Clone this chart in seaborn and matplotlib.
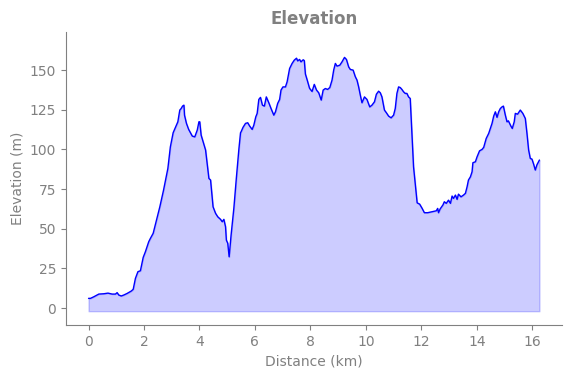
import matplotlib
matplotlib.use("Agg")
import matplotlib.pyplot as plt
import seaborn as sns
import pandas as pd

# elevation profile
distance_km = [
    0.00, 0.07, 0.19, 0.37, 0.55, 0.70, 0.85, 0.97, 1.03, 1.09, 1.18, 1.27, 1.39, 1.54, 1.61,
    1.69, 1.78, 1.87, 1.97, 2.05, 2.17, 2.23, 2.33, 2.45, 2.57, 2.70, 2.86, 2.95, 3.05, 3.14,
    3.22, 3.29, 3.34, 3.39, 3.44, 3.46, 3.53, 3.61, 3.74, 3.83, 3.92, 3.98, 4.01, 4.06, 4.15,
    4.22, 4.34, 4.40, 4.49, 4.58, 4.66, 4.76, 4.82, 4.88, 4.94, 4.97, 5.02, 5.07, 5.14, 5.24,
    5.33, 5.42, 5.48, 5.50, 5.57, 5.66, 5.74, 5.81, 5.90, 5.96, 6.03, 6.08, 6.14, 6.20, 6.27,
    6.34, 6.41, 6.50, 6.58, 6.68, 6.74, 6.82, 6.89, 6.94, 7.01, 7.10, 7.16, 7.25, 7.34, 7.42,
    7.50, 7.54, 7.61, 7.66, 7.74, 7.78, 7.82, 7.88, 7.97, 8.06, 8.14, 8.22, 8.30, 8.39, 8.46,
    8.54, 8.62, 8.70, 8.78, 8.84, 8.90, 8.96, 9.06, 9.14, 9.23, 9.30, 9.38, 9.44, 9.54, 9.62,
    9.68, 9.74, 9.80, 9.86, 9.95, 10.04, 10.14, 10.22, 10.31, 10.38, 10.46, 10.52, 10.58, 10.67,
    10.74, 10.82, 10.91, 11.00, 11.06, 11.12, 11.18, 11.24, 11.30, 11.36, 11.42, 11.48, 11.54,
    11.60, 11.66, 11.72, 11.78, 11.85, 11.94, 12.03, 12.11, 12.23, 12.38, 12.54, 12.59, 12.62,
    12.68, 12.78, 12.83, 12.90, 12.98, 13.05, 13.11, 13.16, 13.23, 13.29, 13.34, 13.43, 13.52,
    13.59, 13.65, 13.70, 13.77, 13.83, 13.86, 13.95, 14.01, 14.10, 14.19, 14.25, 14.34, 14.43,
    14.49, 14.55, 14.61, 14.67, 14.73, 14.79, 14.85, 14.91, 14.96, 15.03, 15.09, 15.14, 15.23,
    15.28, 15.35, 15.39, 15.47, 15.57, 15.66, 15.75, 15.81, 15.87, 15.93, 15.99, 16.05, 16.11,
    16.17, 16.23, 16.26,
]
elevation_m = [
    6.1, 6.1, 7.1, 8.8, 9.0, 9.4, 8.8, 8.8, 9.7, 8.2, 7.6, 8.2, 9.2, 10.7, 11.8,
    18.7, 22.9, 23.5, 31.9, 35.5, 41.8, 43.9, 47.1, 55.4, 63.8, 74.0, 88.0, 101.6, 110.5, 114.2,
    117.4, 124.8, 125.8, 127.3, 127.9, 121.6, 116.4, 112.6, 108.4, 107.9, 112.2, 117.4, 117.4, 109.0, 103.8,
    99.6, 81.7, 80.7, 63.8, 59.7, 57.5, 55.9, 54.4, 55.9, 51.2, 42.8, 40.8, 32.3, 46.0, 63.0,
    82.0, 100.0, 110.5, 111.1, 113.9, 116.4, 116.8, 114.7, 112.6, 115.3, 120.5, 122.7, 131.5, 132.8, 127.9,
    127.3, 133.1, 129.4, 125.8, 121.6, 123.7, 129.0, 131.5, 137.4, 139.4, 139.4, 142.6, 151.0, 154.2, 156.3,
    157.5, 155.8, 156.7, 155.2, 156.5, 156.0, 147.5, 144.0, 138.5, 136.5, 141.0, 137.4, 135.7, 131.1, 137.4,
    138.4, 137.8, 139.0, 143.7, 150.0, 154.2, 152.5, 153.1, 155.2, 158.0, 156.7, 152.0, 150.4, 150.0, 145.8,
    143.7, 139.4, 134.2, 129.4, 133.1, 131.5, 126.8, 127.9, 130.0, 134.8, 136.7, 135.7, 133.1, 124.8,
    123.1, 121.0, 119.9, 121.6, 125.8, 135.3, 139.4, 139.0, 137.8, 136.3, 135.3, 135.3, 133.1,
    132.1, 110.1, 89.0, 78.6, 66.3, 65.5, 62.8, 60.1, 60.1, 60.7, 61.3, 62.8, 60.1,
    62.5, 65.0, 67.0, 66.0, 68.0, 66.0, 70.6, 69.1, 71.2, 68.5, 71.8, 70.1, 71.2,
    72.3, 76.4, 80.7, 82.7, 85.9, 91.6, 92.2, 95.3, 99.1, 100.0, 101.3, 106.9, 110.1,
    113.2, 116.4, 121.0, 123.7, 120.2, 123.7, 125.8, 126.8, 127.3, 121.6, 117.4, 118.0, 114.7,
    113.2, 117.4, 122.7, 122.2, 124.8, 122.7, 119.5, 110.1, 99.6, 94.3, 93.9, 90.7, 87.0,
    90.3, 92.4, 93.3,
]
fill_base = -2

df = pd.DataFrame({"Distance (km)": distance_km, "Elevation (m)": elevation_m})

sns.set_style("ticks")
plt.rcParams["font.family"] = ["DejaVu Sans"]
text_grey = "#808080"

fig, ax = plt.subplots(figsize=(5.71, 3.78), dpi=100)
fig.subplots_adjust(left=0.1156, right=0.9842, bottom=0.1402, top=0.9153)

ax.fill_between(df["Distance (km)"], df["Elevation (m)"], fill_base, color="blue", alpha=0.2)
sns.lineplot(data=df, x="Distance (km)", y="Elevation (m)", color="blue", linewidth=1.0, ax=ax)

ax.set_ylim(-10.7, 174)
ax.set_yticks([0, 25, 50, 75, 100, 125, 150])
ax.set_xticks(range(0, 17, 2))

ax.set_title("Elevation", color=text_grey, fontsize=12, fontweight="bold")
ax.set_xlabel("Distance (km)", color=text_grey, fontsize=10)
ax.set_ylabel("Elevation (m)", color=text_grey, fontsize=10)
ax.tick_params(colors=text_grey, labelsize=10, length=3.5)
for side in ["left", "bottom"]:
    ax.spines[side].set_color(text_grey)
sns.despine(ax=ax)

fig.savefig("out.png", dpi=100)
